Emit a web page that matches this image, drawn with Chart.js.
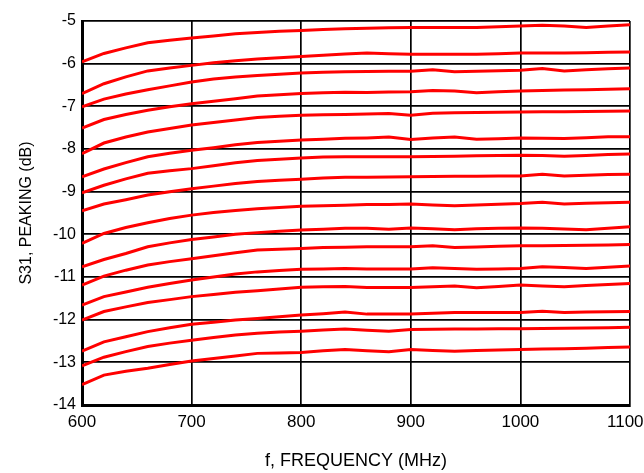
<!DOCTYPE html>
<html>
<head>
<meta charset="utf-8">
<script src="https://cdn.jsdelivr.net/npm/chart.js@4/dist/chart.umd.min.js"></script>
<style>
  html, body { margin: 0; padding: 0; background: #fff; }
  #wrap { width: 644px; height: 473px; }
</style>
</head>
<body>
<div id="wrap"><canvas id="c" width="644" height="473"></canvas></div>
<script>
const freqs = [600,620,640,660,680,700,720,740,760,780,800,820,840,860,880,900,920,940,960,980,1000,1020,1040,1060,1080,1100];

const s1  = [-5.96,-5.76,-5.63,-5.51,-5.45,-5.40,-5.35,-5.30,-5.27,-5.24,-5.22,-5.20,-5.18,-5.17,-5.16,-5.155,-5.155,-5.155,-5.15,-5.135,-5.12,-5.10,-5.12,-5.155,-5.12,-5.085];
const s2  = [-6.70,-6.47,-6.31,-6.17,-6.10,-6.04,-5.98,-5.93,-5.89,-5.86,-5.83,-5.80,-5.775,-5.75,-5.77,-5.78,-5.78,-5.78,-5.78,-5.77,-5.75,-5.75,-5.75,-5.745,-5.735,-5.725];
const s3  = [-7.01,-6.83,-6.71,-6.61,-6.52,-6.43,-6.36,-6.31,-6.28,-6.25,-6.22,-6.20,-6.19,-6.185,-6.18,-6.18,-6.14,-6.19,-6.18,-6.165,-6.155,-6.115,-6.17,-6.14,-6.12,-6.10];
const s4  = [-7.51,-7.31,-7.19,-7.09,-7.01,-6.94,-6.88,-6.82,-6.76,-6.73,-6.70,-6.68,-6.67,-6.675,-6.665,-6.66,-6.63,-6.64,-6.68,-6.66,-6.64,-6.63,-6.62,-6.61,-6.60,-6.585];
const s5  = [-8.11,-7.86,-7.72,-7.60,-7.52,-7.44,-7.38,-7.32,-7.26,-7.23,-7.21,-7.20,-7.19,-7.18,-7.17,-7.21,-7.16,-7.15,-7.145,-7.14,-7.13,-7.125,-7.125,-7.12,-7.115,-7.11];
const s6  = [-8.65,-8.47,-8.32,-8.18,-8.10,-8.03,-7.97,-7.90,-7.85,-7.82,-7.79,-7.77,-7.75,-7.74,-7.72,-7.78,-7.74,-7.72,-7.77,-7.76,-7.74,-7.75,-7.755,-7.735,-7.715,-7.715];
const s7  = [-9.03,-8.85,-8.70,-8.57,-8.51,-8.46,-8.39,-8.32,-8.27,-8.24,-8.21,-8.19,-8.18,-8.18,-8.18,-8.18,-8.175,-8.17,-8.16,-8.15,-8.145,-8.155,-8.17,-8.15,-8.13,-8.12];
const s8  = [-9.45,-9.29,-9.19,-9.08,-9.00,-8.93,-8.87,-8.81,-8.76,-8.73,-8.71,-8.68,-8.66,-8.665,-8.655,-8.65,-8.645,-8.64,-8.64,-8.635,-8.63,-8.59,-8.63,-8.615,-8.60,-8.59];
const s9  = [-10.21,-9.98,-9.84,-9.73,-9.63,-9.55,-9.49,-9.44,-9.40,-9.37,-9.34,-9.33,-9.32,-9.30,-9.30,-9.29,-9.31,-9.33,-9.31,-9.295,-9.28,-9.25,-9.29,-9.27,-9.26,-9.25];
const s10 = [-10.76,-10.59,-10.45,-10.29,-10.20,-10.12,-10.06,-10.00,-9.96,-9.93,-9.90,-9.88,-9.86,-9.86,-9.88,-9.85,-9.87,-9.89,-9.87,-9.86,-9.85,-9.86,-9.875,-9.89,-9.855,-9.82];
const s11 = [-11.19,-10.98,-10.84,-10.72,-10.64,-10.57,-10.50,-10.43,-10.37,-10.35,-10.33,-10.31,-10.30,-10.29,-10.29,-10.29,-10.27,-10.31,-10.295,-10.28,-10.27,-10.265,-10.26,-10.255,-10.25,-10.24];
const s12 = [-11.66,-11.46,-11.35,-11.24,-11.15,-11.07,-11.00,-10.93,-10.88,-10.85,-10.82,-10.81,-10.80,-10.81,-10.815,-10.815,-10.785,-10.80,-10.82,-10.81,-10.80,-10.76,-10.78,-10.80,-10.77,-10.745];
const s13 = [-12.01,-11.81,-11.70,-11.60,-11.53,-11.46,-11.41,-11.36,-11.32,-11.28,-11.24,-11.23,-11.22,-11.245,-11.245,-11.245,-11.23,-11.21,-11.25,-11.22,-11.19,-11.21,-11.23,-11.20,-11.175,-11.15];
const s14 = [-12.74,-12.52,-12.40,-12.28,-12.19,-12.11,-12.06,-12.01,-11.97,-11.93,-11.89,-11.86,-11.82,-11.87,-11.87,-11.87,-11.85,-11.83,-11.83,-11.83,-11.83,-11.80,-11.83,-11.82,-11.815,-11.81];
const s15 = [-13.08,-12.88,-12.75,-12.63,-12.55,-12.48,-12.42,-12.36,-12.32,-12.29,-12.27,-12.24,-12.22,-12.25,-12.27,-12.23,-12.225,-12.22,-12.22,-12.215,-12.21,-12.205,-12.20,-12.195,-12.19,-12.18];
const s16 = [-13.52,-13.30,-13.21,-13.14,-13.05,-12.97,-12.91,-12.85,-12.79,-12.78,-12.77,-12.73,-12.70,-12.73,-12.75,-12.70,-12.72,-12.74,-12.72,-12.71,-12.70,-12.69,-12.68,-12.67,-12.655,-12.64];

const series = [s1,s2,s3,s4,s5,s6,s7,s8,s9,s10,s11,s12,s13,s14,s15,s16];

const xTitle = 'f, FREQUENCY (MHz)';
const yTitle = 'S31, PEAKING (dB)';

const datasets = series.map((s, i) => ({
  label: 'S' + (i + 1),
  data: freqs.map((f, j) => ({ x: f, y: s[j] })),
  borderColor: '#ff0000',
  borderWidth: 3,
  pointRadius: 0,
  tension: 0,
  fill: false
}));

const FONT = "'Liberation Sans', Arial, Helvetica, sans-serif";

new Chart(document.getElementById('c'), {
  type: 'line',
  data: { datasets },
  options: {
    responsive: false,
    animation: false,
    devicePixelRatio: 1,
    layout: { padding: { top: 21, right: 14, bottom: 0, left: 0 } },
    plugins: { legend: { display: false }, tooltip: { enabled: false } },
    scales: {
      x: {
        type: 'linear',
        min: 600, max: 1100,
        ticks: {
          stepSize: 100, color: '#000', font: { family: FONT, size: 17 }, padding: 7, maxRotation: 0,
          callback: (v) => (v === 1100 ? String(v) + '  ' : String(v))
        },
        grid: { color: '#000', lineWidth: 1.7, drawTicks: false },
        border: { display: true, color: '#000', width: 3 },
        title: { display: true, text: xTitle, color: '#000', font: { family: FONT, size: 18 }, padding: { top: 0, bottom: 1 } },
        afterFit: (s) => { s.height = 68; s.paddingLeft = 0; s.paddingRight = 0; }
      },
      y: {
        min: -14, max: -5,
        ticks: { stepSize: 1, color: '#000', font: { family: FONT, size: 16 }, padding: 6, callback: (v) => String(v) },
        grid: { color: '#000', lineWidth: 1.7, drawTicks: false },
        border: { display: true, color: '#000', width: 3 },
        title: { display: true, text: yTitle, color: '#000', font: { family: FONT, size: 16 }, padding: { top: 17, bottom: 0 } },
        afterFit: (s) => { s.width = 82; s.paddingTop = 0; s.paddingBottom = 0; }
      }
    }
  }
});
</script>
</body>
</html>
